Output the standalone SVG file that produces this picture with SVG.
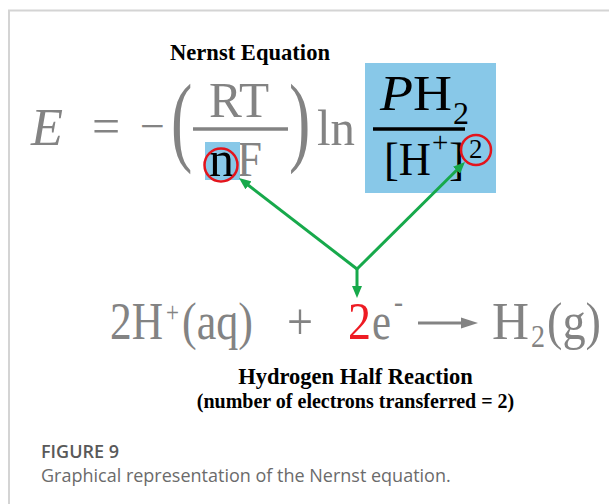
<svg xmlns="http://www.w3.org/2000/svg" width="609" height="504" viewBox="0 0 609 504">
<style>
.serif{font-family:"Liberation Serif","Times New Roman",serif}
.gray{fill:#838383}
.bold{font-weight:bold}
.conn{stroke:#17a94b;stroke-width:3;fill:none;marker-end:url(#ah)}
.ring{fill:none;stroke:#e3141c;stroke-width:2.5}
.hl{fill:#88c8e8}
.cap{font-family:"Open Sans","Noto Sans",sans-serif}
</style>
<defs>
<marker id="ah" markerUnits="userSpaceOnUse" markerWidth="12" markerHeight="10" refX="3" refY="5" orient="auto"><path d="M0,0 L12,5 L0,10 z" fill="#17a94b"/></marker>
</defs>
<rect width="609" height="504" fill="#fff"/>
<g id="frame"><path d="M9,504 V10.5 H609" fill="none" stroke="#d4d4d4" stroke-width="2"/></g>
<g id="title"><text class="serif bold" x="250" y="60" font-size="23" text-anchor="middle" textLength="160" lengthAdjust="spacingAndGlyphs">Nernst Equation</text></g>
<g id="equation" class="serif gray">
<text x="31" y="145" font-size="52" font-style="italic" textLength="32" lengthAdjust="spacingAndGlyphs">E</text>
<text x="92" y="143" font-size="50">=</text>
<text x="140" y="141" font-size="44">−</text>
<text transform="translate(171,153) scale(0.64,1)" font-size="100">(</text>
<text x="209" y="117" font-size="50" textLength="60" lengthAdjust="spacingAndGlyphs">RT</text>
<line x1="193" y1="129" x2="288" y2="129" stroke="#838383" stroke-width="3.5"/>
<text x="237" y="176" font-size="50" textLength="25" lengthAdjust="spacingAndGlyphs">F</text>
<text transform="translate(289,153) scale(0.64,1)" font-size="100">)</text>
<text x="317" y="145" font-size="51" textLength="38" lengthAdjust="spacingAndGlyphs">ln</text>
</g>
<g id="n-term">
<rect class="hl" x="205" y="142" width="35" height="38"/>
<text class="serif" x="209" y="176" font-size="50" textLength="25" lengthAdjust="spacingAndGlyphs">n</text>
<circle class="ring" cx="221" cy="165" r="16.5"/>
</g>
<g id="pressure-term">
<rect class="hl" x="365" y="63" width="131" height="130"/>
<text class="serif" x="380" y="110" font-size="50"><tspan font-style="italic" textLength="33" lengthAdjust="spacingAndGlyphs">P</tspan><tspan x="413" textLength="39" lengthAdjust="spacingAndGlyphs">H</tspan><tspan x="453" y="124" font-size="32">2</tspan></text>
<line x1="373" y1="129" x2="465" y2="129" stroke="#000" stroke-width="3.5"/>
<text class="serif" x="384" y="175" font-size="46"><tspan textLength="47" lengthAdjust="spacingAndGlyphs">[H</tspan><tspan x="432" y="152" font-size="29">+</tspan><tspan x="449" y="175">]</tspan><tspan x="469" y="158" font-size="27">2</tspan></text>
<circle class="ring" cx="476" cy="150" r="15"/>
</g>
<g id="connectors">
<line class="conn" x1="357" y1="269" x2="246.1" y2="183.5"/>
<line class="conn" x1="357" y1="269" x2="458.6" y2="168.3"/>
<line class="conn" x1="357" y1="269" x2="357" y2="289"/>
</g>
<g id="reaction" class="serif gray" font-size="52">
<text x="110" y="339"><tspan textLength="53" lengthAdjust="spacingAndGlyphs">2H</tspan><tspan x="166" y="322" font-size="30" textLength="13" lengthAdjust="spacingAndGlyphs">+</tspan><tspan x="182" y="339" textLength="71" lengthAdjust="spacingAndGlyphs">(aq)</tspan><tspan x="287" textLength="26" lengthAdjust="spacingAndGlyphs">+</tspan><tspan x="348" fill="#ee1c24" textLength="23" lengthAdjust="spacingAndGlyphs">2</tspan><tspan x="372" textLength="19" lengthAdjust="spacingAndGlyphs">e</tspan><tspan x="394" y="312" font-size="32" textLength="9" lengthAdjust="spacingAndGlyphs">-</tspan></text>
<line x1="418" y1="323" x2="466" y2="323" stroke="#838383" stroke-width="3.2"/>
<path d="M461,317.5 L478,323 L461,328.5 z" fill="#838383"/>
<text x="492" y="339"><tspan textLength="37" lengthAdjust="spacingAndGlyphs">H</tspan><tspan x="531" y="347" font-size="32" textLength="14" lengthAdjust="spacingAndGlyphs">2</tspan><tspan x="547" y="339" textLength="54" lengthAdjust="spacingAndGlyphs">(g)</tspan></text>
</g>
<g id="reaction-label" class="serif bold" text-anchor="middle">
<text x="355.5" y="384" font-size="22.5">Hydrogen Half Reaction</text>
<text x="355.5" y="408" font-size="20">(number of electrons transferred = 2)</text>
</g>
<g id="caption" class="cap">
<text x="41" y="458" font-size="18" font-weight="600" fill="#595959">FIGURE 9</text>
<text x="41" y="482" font-size="18" fill="#6b6b6b">Graphical representation of the Nernst equation.</text>
</g>
</svg>
